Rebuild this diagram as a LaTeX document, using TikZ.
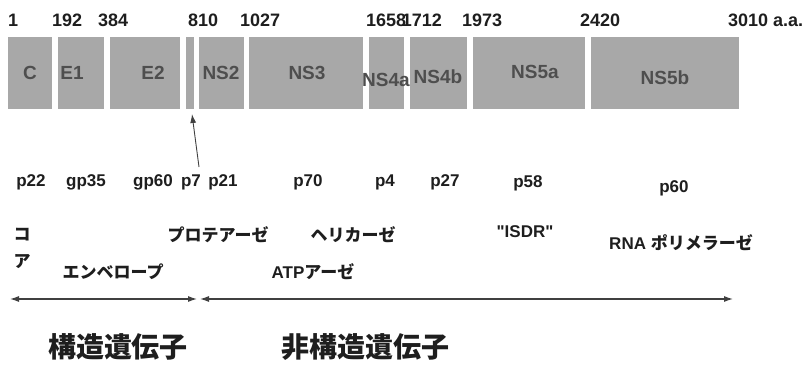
\documentclass[tikz,border=0pt]{standalone}
\usepackage{fontspec}
\setmainfont{Liberation Sans}
\newfontfamily\cjk{Noto Sans CJK JP}
\newfontfamily\plainsans[Ligatures=TeXOff]{Liberation Sans}
\usetikzlibrary{arrows.meta}
\definecolor{boxgray}{RGB}{168,168,168}
\definecolor{lblgray}{RGB}{78,78,78}
\definecolor{ink}{RGB}{30,30,30}
\begin{document}
\begin{tikzpicture}[x=1pt,y=-1pt,
  gbox/.style={fill=boxgray,inner sep=0pt,anchor=north west,minimum height=72pt},
  blab/.style={text=lblgray,font=\fontsize{19}{19}\selectfont\bfseries,inner sep=0pt},
  num/.style={text=ink,font=\fontsize{18}{18}\selectfont\bfseries,inner sep=0pt,anchor=base west},
  plab/.style={text=ink,font=\fontsize{17}{17}\selectfont\bfseries,inner sep=0pt},
  jlab/.style={text=ink,font=\fontsize{17}{17}\selectfont\bfseries,inner sep=0pt},
  jbig/.style={text=ink,font=\cjk\fontsize{28}{28}\selectfont\bfseries,inner sep=0pt},
  span/.style={draw=ink!85,line width=1.1pt,{Latex[length=9pt,width=6pt]}-{Latex[length=9pt,width=6pt]}},
  ptr/.style={draw=ink!85,line width=0.9pt,-{Latex[length=9pt,width=6pt]}}]
\useasboundingbox (0,0) rectangle (809,367);
% boxes
\node[gbox,minimum width=44pt] (bC) at (8,37) {};
\node[gbox,minimum width=46pt] (bE1) at (58,37) {};
\node[gbox,minimum width=70pt] (bE2) at (110,37) {};
\node[gbox,minimum width=8pt] (bp7) at (186,37) {};
\node[gbox,minimum width=45pt] (bNS2) at (199,37) {};
\node[gbox,minimum width=114pt] (bNS3) at (249,37) {};
\node[gbox,minimum width=35pt] (bNS4a) at (369,37) {};
\node[gbox,minimum width=57pt] (bNS4b) at (410,37) {};
\node[gbox,minimum width=112pt] (bNS5a) at (473,37) {};
\node[gbox,minimum width=148pt] (bNS5b) at (591,37) {};
% box labels
\node[blab] (lC) at (30,73) {C};
\node[blab] (lE1) at (72,73) {E1};
\node[blab] (lE2) at (153,73) {E2};
\node[blab] (lNS2) at (221,73) {NS2};
\node[blab] (lNS3) at (307,73) {NS3};
\node[blab] (lNS4a) at (386,80) {NS4a};
\node[blab] (lNS4b) at (438,77) {NS4b};
\node[blab] (lNS5a) at (535,72) {NS5a};
\node[blab] (lNS5b) at (665,78) {NS5b};
% positions
\node[num] (n1) at (8,26) {1};
\node[num] (n192) at (52,26) {192};
\node[num] (n384) at (98,26) {384};
\node[num] (n810) at (188,26) {810};
\node[num] (n1027) at (240,26) {1027};
\node[num] (n1658) at (366,26) {1658};
\node[num,anchor=base east] (n1712) at (442,26) {1712};
\node[num] (n1973) at (462,26) {1973};
\node[num] (n2420) at (580,26) {2420};
\node[num] (n3010) at (728,26) {3010 a.a.};
% p7 pointer
\coordinate (p7tail) at (199,167);
\coordinate (p7tip) at (192,114);
\draw[ptr] (p7tail) -- (p7tip);
% protein names
\node[plab] (p22) at (31,182) {p22};
\node[plab] (gp35) at (86,182) {gp35};
\node[plab] (gp60) at (153,182) {gp60};
\node[plab] (p7) at (191,182) {p7};
\node[plab] (p21) at (223,182) {p21};
\node[plab] (p70) at (308,182) {p70};
\node[plab] (p4) at (385,182) {p4};
\node[plab] (p27) at (445,182) {p27};
\node[plab] (p58) at (528,183) {p58};
\node[plab] (p60) at (674,188) {p60};
% functions
\node[jlab] (core1) at (22,235) {\cjk コ};
\node[jlab] (core2) at (22,262) {\cjk ア};
\node[jlab] (prot) at (218,235) {\cjk プロテアーゼ};
\node[jlab] (heli) at (353,235) {\cjk ヘリカーゼ};
\node[plab] (isdr) at (525,232) {\plainsans\bfseries "ISDR"};
\node[jlab] (rdrp) at (681,243) {RNA {\cjk ポリメラーゼ}};
\node[jlab] (env) at (113,272) {\cjk エンベロープ};
\node[jlab] (atp) at (313,272) {ATP{\cjk アーゼ}};
% spans
\coordinate (sL) at (10,299);
\coordinate (sM1) at (197,299);
\coordinate (sM2) at (200,299);
\coordinate (sR) at (733,299);
\draw[span] (sL) -- (sM1);
\draw[span] (sM2) -- (sR);
\node[jbig] (struct) at (118,347) {構造遺伝子};
\node[jbig] (nonstruct) at (365,347) {非構造遺伝子};
\end{tikzpicture}
\end{document}
